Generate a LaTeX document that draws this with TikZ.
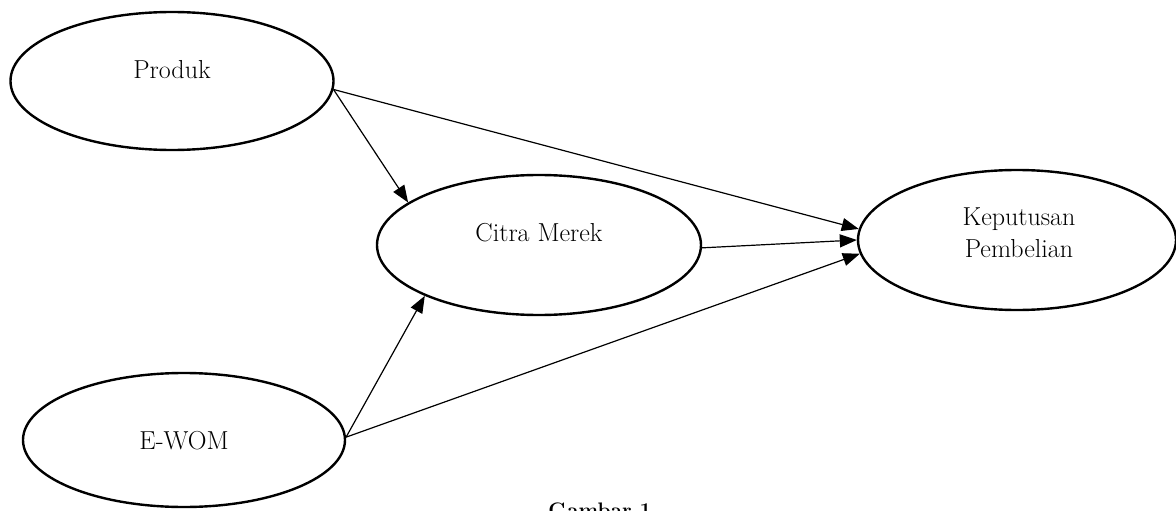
\documentclass[tikz,border=0pt]{standalone}
\usetikzlibrary{shapes.geometric,arrows.meta}
\begin{document}
\begin{tikzpicture}[x=1pt,y=-1pt,
  var/.style={draw=black,line width=2.4pt,ellipse,inner sep=0pt},
  lbl/.style={font=\fontsize{26}{32}\selectfont,align=center,inner sep=0pt},
  conn/.style={line width=1.2pt,-{Triangle[length=17pt,width=13pt]}}]
\useasboundingbox (0,0) rectangle (1176,511);
\node[var,minimum width=323pt,minimum height=138pt] (P) at (172,81) {};
\node[var,minimum width=324pt,minimum height=140pt] (C) at (539,245) {};
\node[var,minimum width=318pt,minimum height=140pt] (K) at (1017,240) {};
\node[var,minimum width=322pt,minimum height=134pt] (E) at (184,440) {};
\node[lbl] (tP) at (172,70) {Produk};
\node[lbl] (tC) at (539,233) {Citra Merek};
\node[lbl] (tK) at (1019,233) {Keputusan\\Pembelian};
\node[lbl] (tE) at (184,441) {E-WOM};
\node[font=\fontsize{21}{24}\bfseries\selectfont,anchor=base] (cap) at (600,517) {Gambar 1};
\draw[conn] (P.-3) -- (C.162);
\draw[conn] (P.-3) -- (K.176);
\draw[conn] (C.-1.5) -- (K.180);
\draw[conn] (E.1) -- (C.204);
\draw[conn] (E.1) -- (K.185);
\end{tikzpicture}
\end{document}
